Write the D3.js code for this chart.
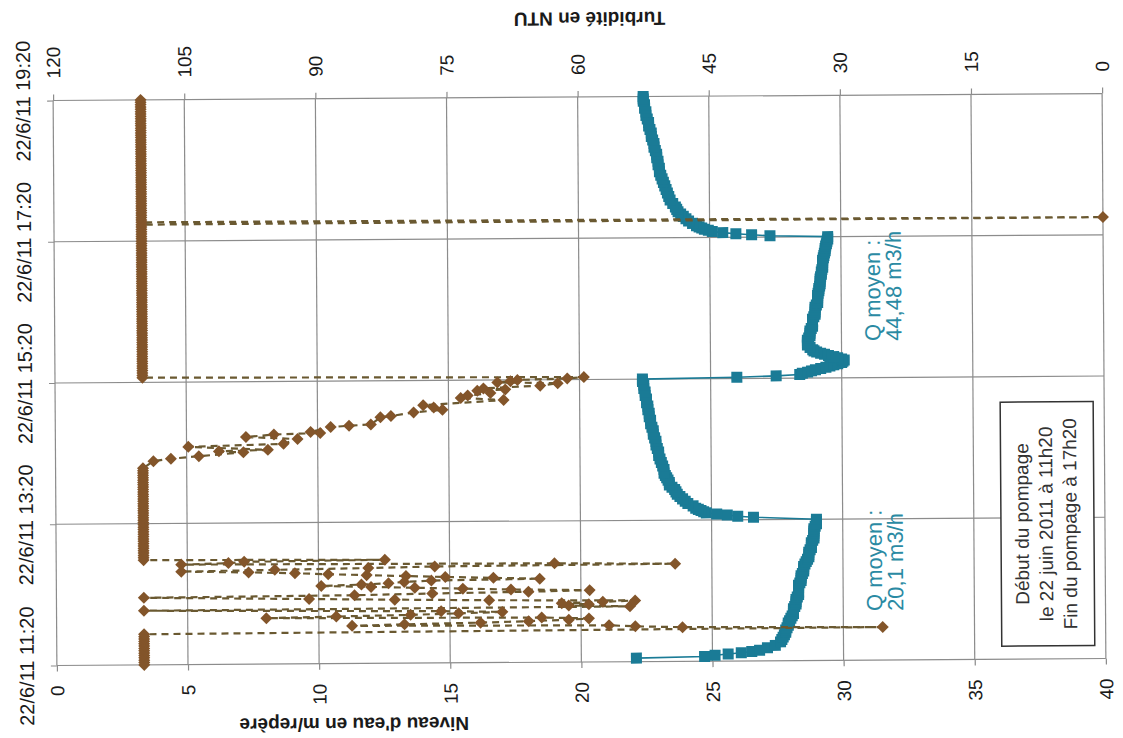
<!DOCTYPE html>
<html><head><meta charset="utf-8">
<script src="https://cdn.jsdelivr.net/npm/d3@7"></script>
<style>
html,body{margin:0;padding:0;background:#fff;}
svg{display:block;}
text{font-family:"Liberation Sans",Arial,sans-serif;fill:#1a1a1a;}
</style></head>
<body><svg id="c" width="1123" height="738"></svg>
<script>
// ---------- DATA (minutes after 22/6/11 11:20) ----------
const timeTickMinutes = [0, 120, 240, 360, 480];
const levelTicks = [0, 5, 10, 15, 20, 25, 30, 35, 40];
const turbTicks = [120, 105, 90, 75, 60, 45, 30, 15, 0];

// Water level (m/repère): [minute, value]
const levelPumping1 = [[3,22.1],[4,24.7],[5,25.1],[6,25.6],[7,26.1],[8,26.5],[9,26.8],[11,27.1],[13,27.4],[16,27.6],[18,27.65],[20,27.7],[22,27.75],[24,27.8],[26,27.8],[28,27.85],[30,27.9],[32,27.9],[34,27.95],[36,28.0],[38,28.05],[40,28.1],[42,28.1],[44,28.1],[46,28.15],[48,28.2],[50,28.2],[52,28.2],[54,28.25],[56,28.3],[58,28.3],[60,28.3],[62,28.3],[64,28.3],[66,28.35],[68,28.4],[70,28.4],[72,28.4],[74,28.45],[76,28.5],[78,28.5],[80,28.5],[82,28.55],[84,28.6],[86,28.65],[88,28.7],[90,28.7],[92,28.7],[94,28.75],[96,28.8],[98,28.8],[100,28.8],[102,28.85],[104,28.9],[106,28.9],[108,28.9],[110,28.9],[112,28.9],[114,28.95],[116,29.0],[118,29.0],[120,29.0]];
const levelRecovery1 = [[122,26.6],[123,26.0],[124,25.6],[125,25.2],[126,24.8],[127,24.7],[128,24.6],[129,24.5],[130,24.4],[132,24.3],[134,24.1],[136,24.0],[138,23.9],[140,23.8],[142,23.7],[144,23.65],[146,23.6],[148,23.5],[150,23.4],[152,23.4],[154,23.35],[156,23.3],[158,23.25],[160,23.2],[163,23.2],[166,23.15],[169,23.1],[172,23.05],[175,23.0],[178,23.0],[181,22.95],[184,22.9],[187,22.9],[190,22.85],[193,22.8],[196,22.8],[199,22.75],[202,22.7],[205,22.7],[208,22.65],[211,22.65],[214,22.6],[217,22.6],[220,22.55],[223,22.55],[226,22.5],[229,22.5],[232,22.45],[235,22.45],[238,22.4],[240,22.4]];
const levelPumping2 = [[241,26.0],[242,27.5],[243,28.4],[244,28.5],[245,28.7],[246,28.85],[247,29.0],[248,29.2],[249,29.4],[250,29.55],[251,29.7],[252,29.85],[253,30.0],[254,30.05],[255,30.1],[256,30.0],[257,29.85],[258,29.7],[259,29.5],[260,29.35],[261,29.2],[262,29.05],[263,28.95],[264,28.9],[266,28.8],[268,28.7],[270,28.7],[272,28.7],[274,28.75],[276,28.8],[278,28.8],[280,28.8],[282,28.85],[284,28.9],[286,28.9],[288,28.9],[290,28.9],[292,28.95],[294,29.0],[296,29.0],[298,29.0],[300,29.0],[302,29.05],[304,29.1],[306,29.1],[308,29.1],[310,29.1],[312,29.12],[314,29.15],[316,29.15],[318,29.18],[320,29.2],[322,29.2],[324,29.2],[326,29.22],[328,29.25],[330,29.25],[332,29.27],[334,29.3],[336,29.3],[338,29.3],[340,29.3],[342,29.33],[344,29.35],[346,29.37],[348,29.4],[350,29.4],[352,29.42],[354,29.45],[356,29.47],[358,29.5],[360,29.5]];
const levelRecovery2 = [[361,27.3],[362,26.6],[363,26.0],[364,25.5],[365,25.1],[366,24.95],[367,24.8],[368,24.7],[369,24.6],[370,24.5],[372,24.35],[374,24.2],[376,24.1],[378,24.0],[380,23.9],[382,23.8],[384,23.75],[386,23.7],[389,23.6],[392,23.5],[395,23.45],[398,23.4],[401,23.35],[404,23.3],[407,23.25],[410,23.2],[413,23.15],[416,23.1],[419,23.1],[422,23.05],[425,23.05],[428,23.0],[431,23.0],[434,22.95],[437,22.9],[440,22.9],[443,22.85],[446,22.8],[449,22.8],[452,22.75],[455,22.7],[458,22.7],[461,22.65],[464,22.6],[467,22.6],[470,22.55],[473,22.55],[476,22.5],[478,22.5],[480,22.5]];

// Turbidity (NTU): [minute, value]
const turbSat1 = [[0,110],[2,110],[4,110],[6,110],[8,110],[10,110],[12,110],[14,110],[16,110],[18,110],[20,110],[22,110],[24,110],[26,110]];
const turbNoisy = [[28,25.5],[29,48.4],[30,53.8],[31,56.8],[32,86.2],[33,80.2],[34,71.5],[35,66.0],[36,61.4],[37,59.1],[38,64.5],[39,96.0],[40,88.0],[41,79.5],[42,74.0],[43,69.0],[44,76.0],[46,110],[47,54.4],[48,61.4],[49,59.1],[50,62.2],[51,57.5],[52,53.8],[53,70.5],[54,81.3],[55,91.1],[57,110],[58,85.9],[59,77.0],[60,66.0],[61,59.0],[62,68.0],[63,73.5],[64,79.0],[65,84.0],[66,89.7],[67,85.1],[68,82.0],[69,80.2],[70,77.1],[71,64.7],[72,70.0],[73,75.5],[74,80.0],[75,84.5],[76,88.9],[77,92.7],[78,98.0],[79,105.7],[80,95.0],[81,84.3],[82,76.7],[83,49.2],[84,63.0],[85,105.7],[86,100.3],[87,98.5],[88,82.4]];
const turbSat2 = [[89,110],[91,110],[93,110],[95,110],[97,110],[99,110],[101,110],[103,110],[105,110],[107,110],[109,110],[111,110],[113,110],[115,110],[117,110],[119,110],[121,110],[123,110],[125,110],[127,110],[129,110],[131,110],[133,110],[135,110],[137,110],[139,110],[141,110],[143,110],[145,110],[147,110],[149,110],[151,110],[153,110],[155,110],[157,110],[159,110],[161,110],[163,110],[165,110],[167,110]];
const turbFalling = [[173,108.8],[175,106.8],[177,103.6],[180,98.5],[181,101.3],[182,95.7],[185,104.8],[187,93.9],[191,92.3],[193,98.2],[195,95.0],[196,89.7],[197,90.8],[201,88.5],[202,86.4],[203,83.9],[209,82.8],[210,81.6],[213,79.0],[215,75.7],[217,76.7],[219,77.9],[223,68.7],[225,73.6],[227,72.8],[229,70.2],[231,71.7],[232,68.5],[233,71.0],[235,64.5],[237,62.5],[238,69.4],[239,67.9],[240,67.1],[241,61.4],[242,59.5]];
const turbSat3 = [[244,110],[246,110],[248,110],[250,110],[252,110],[254,110],[256,110],[258,110],[260,110],[262,110],[264,110],[266,110],[268,110],[270,110],[272,110],[274,110],[276,110],[278,110],[280,110],[282,110],[284,110],[286,110],[288,110],[290,110],[292,110],[294,110],[296,110],[298,110],[300,110],[302,110],[304,110],[306,110],[308,110],[310,110],[312,110],[314,110],[316,110],[318,110],[320,110],[322,110],[324,110],[326,110],[328,110],[330,110],[332,110],[334,110],[336,110],[338,110],[340,110],[342,110],[344,110],[346,110],[348,110],[350,110],[352,110],[354,110],[356,110],[358,110],[360,110],[362,110],[364,110],[366,110],[368,110],[370,110],[372,110],[374,110],[375,0],[376,110],[378,110],[380,110],[382,110],[384,110],[386,110],[388,110],[390,110],[392,110],[394,110],[396,110],[398,110],[400,110],[402,110],[404,110],[406,110],[408,110],[410,110],[412,110],[414,110],[416,110],[418,110],[420,110],[422,110],[424,110],[426,110],[428,110],[430,110],[432,110],[434,110],[436,110],[438,110],[440,110],[442,110],[444,110],[446,110],[448,110],[450,110],[452,110],[454,110],[456,110],[458,110],[460,110],[462,110],[464,110],[466,110],[468,110],[470,110],[472,110],[474,110],[476,110],[478,110],[480,110]];

// ---------- CHART ----------
const start = new Date(2011, 5, 22, 11, 20);
const toDate = m => new Date(start.getTime() + m * 60000);
const level = [].concat(levelPumping1, levelRecovery1, levelPumping2, levelRecovery2).map(d => ({t: toDate(d[0]), v: d[1]}));
const turb = [].concat(turbSat1, turbNoisy, turbSat2, turbFalling, turbSat3).map(d => ({t: toDate(d[0]), v: d[1]}));

const L = 55, R = 1104, T = 97, B = 662;
const TEAL = "#1a7b96", BROWN = "#83552a", DASH = "#6a5931", GRID = "#8c8c8c";

const svg = d3.select("#c");
svg.append("rect").attr("width", 1123).attr("height", 738).attr("fill", "#fff");
const g = svg.append("g").attr("transform", "rotate(-0.38,580,380)");

const x = d3.scaleLinear().domain([0, 40]).range([L, R]);
const xT = d3.scaleLinear().domain([120, 0]).range([L, R]);
const y = d3.scaleTime().domain([toDate(0), toDate(480)]).range([B, T]);
const timeTicks = timeTickMinutes.map(toDate);

// grid
g.append("g").selectAll("line").data(levelTicks).join("line")
  .attr("x1", d => x(d)).attr("x2", d => x(d)).attr("y1", T).attr("y2", B)
  .attr("stroke", GRID).attr("stroke-width", 1.2);
g.append("g").selectAll("line").data(timeTicks).join("line")
  .attr("x1", L).attr("x2", R).attr("y1", d => y(d)).attr("y2", d => y(d))
  .attr("stroke", GRID).attr("stroke-width", 1.2);

function styleAxis(sel) {
  sel.select(".domain").remove();
  sel.selectAll(".tick line").attr("stroke", GRID).attr("stroke-width", 1.2);
  sel.selectAll(".tick text").style("font-size", "19px").attr("fill", "#1a1a1a");
}

// bottom: level
const ax1 = g.append("g").attr("transform", `translate(0,${B})`)
  .call(d3.axisBottom(x).tickValues(levelTicks).tickSize(6).tickSizeOuter(0).tickFormat(d3.format("d")));
styleAxis(ax1);
ax1.selectAll(".tick text").attr("transform", "rotate(-90)").attr("x", -20).attr("y", 0).attr("dy", "0.35em").style("text-anchor", "end");

// top: turbidity
const ax2 = g.append("g").attr("transform", `translate(0,${T})`)
  .call(d3.axisTop(xT).tickValues(turbTicks).tickSize(6).tickSizeOuter(0).tickFormat(d3.format("d")));
styleAxis(ax2);
ax2.selectAll(".tick text").attr("transform", "rotate(-90)").attr("x", 22).attr("y", 0).attr("dy", "0.35em").style("text-anchor", "start");

// left: time
const ax3 = g.append("g").attr("transform", `translate(${L},0)`)
  .call(d3.axisLeft(y).tickValues(timeTicks).tickSize(6).tickSizeOuter(0).tickFormat(d3.timeFormat("%d/%-m/%y %H:%M")));
styleAxis(ax3);
ax3.selectAll(".tick text").style("font-size", "20px").attr("transform", "rotate(-90)").attr("x", 0).attr("y", -30).attr("dy", "0.35em").style("text-anchor", "middle");

// teal level series
g.append("path").datum(level)
  .attr("d", d3.line().x(d => x(d.v)).y(d => y(d.t)))
  .attr("fill", "none").attr("stroke", TEAL).attr("stroke-width", 1.6);
g.append("g").selectAll("rect").data(level).join("rect")
  .attr("x", d => x(d.v) - 5.5).attr("y", d => y(d.t) - 5.5)
  .attr("width", 11).attr("height", 11).attr("fill", TEAL);

// brown turbidity series
g.append("path").datum(turb)
  .attr("d", d3.line().x(d => xT(d.v)).y(d => y(d.t)))
  .attr("fill", "none").attr("stroke", DASH).attr("stroke-width", 2.2).attr("stroke-dasharray", "7,5");
g.append("g").selectAll("path").data(turb).join("path")
  .attr("transform", d => `translate(${xT(d.v)},${y(d.t)})`)
  .attr("d", "M0,-6L6,0L0,6L-6,0Z").attr("fill", BROWN);

// axis titles (upside down)
g.append("text").attr("transform", "translate(592,19) rotate(180)")
  .attr("text-anchor", "middle").attr("dy", "0.35em")
  .style("font-size", "19px").style("font-weight", "bold").text("Turbidité en NTU");
g.append("text").attr("transform", "translate(352,723) rotate(180)")
  .attr("text-anchor", "middle").attr("dy", "0.35em")
  .style("font-size", "19px").style("font-weight", "bold").text("Niveau d'eau en m/repère");

// Q moyen labels
const qLabels = [["Q moyen :", "20,1 m3/h", 613], ["Q moyen :", "44,48 m3/h", 343]];
qLabels.forEach(q => {
  [q[0], q[1]].forEach((s, i) => {
    g.append("text").attr("transform", `translate(${873 + i * 21},${q[2]}) rotate(-90)`)
      .attr("text-anchor", "start").attr("dy", "0.35em")
      .style("font-size", "22px").style("fill", "#2a8aa3").text(s);
  });
});

// note box
g.append("rect").attr("x", 1000).attr("y", 405).attr("width", 93).attr("height", 244)
  .attr("fill", "#fff").attr("stroke", "#333").attr("stroke-width", 1.5);
["Début du pompage", "le 22 juin 2011 à 11h20", "Fin du pompage à 17h20"].forEach((s, i) => {
  g.append("text").attr("transform", `translate(${1021 + i * 24},527) rotate(-90)`)
    .attr("text-anchor", "middle").attr("dy", "0.35em")
    .style("font-size", "19px").style("fill", "#333").text(s);
});
</script>
</body></html>
